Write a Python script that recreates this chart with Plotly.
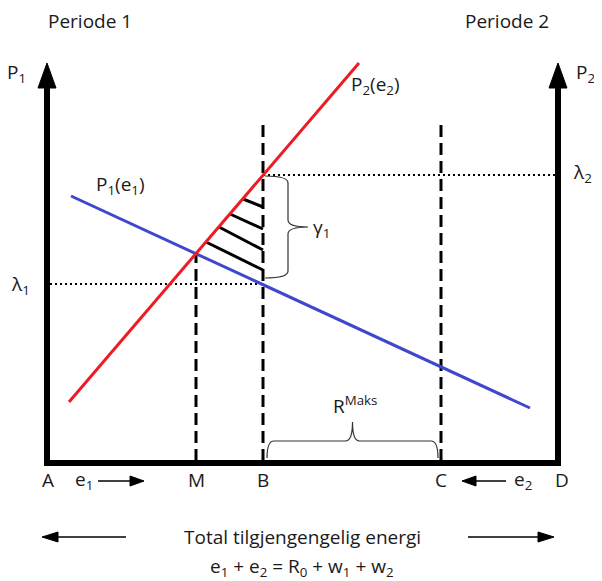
import plotly.graph_objects as go

# ---- diagram data (x: energy position from A, y: price level) ----
x_points = {"A": 0, "M": 149, "B": 216, "C": 394, "D": 511}
axis_top = 400
lambda1 = 179
lambda2 = 288
p2_x = [22, 312]          # red P2(e2) endpoints
p2_y = [61, 400]
p1_x = [24, 483]          # blue P1(e1) endpoints
p1_y = [267, 55]
m_top = 209               # height of M dashed line (intersection)
bc_top = 343              # height of B and C dashed lines
hatch_x0 = [196, 183, 172, 159]
hatch_y0 = [264, 249, 236, 221]
hatch_y1 = [256, 234, 213, 193]

FONT = "Open Sans"
TXT = "#1a1a1a"
FS = 19

fig = go.Figure()

def line(xs, ys, color, width, dash="solid"):
    fig.add_trace(go.Scatter(x=xs, y=ys, mode="lines", hoverinfo="skip",
                             line=dict(color=color, width=width, dash=dash),
                             showlegend=False))

# axes (thick black frame)
A, M, B, C, D = (x_points[k] for k in "AMBCD")
line([A, A], [-3, axis_top - 22], "black", 6)
line([D, D], [-3, axis_top - 22], "black", 6)
line([A - 3, D + 3], [0, 0], "black", 6)

# dotted price lines
line([A + 3, B], [lambda1, lambda1], "black", 2, "2px,3px")
line([B, D - 3], [lambda2, lambda2], "black", 2, "2px,3px")

# dashed vertical lines
line([M, M], [2, m_top], "black", 3, "12px,6px")
line([B, B], [2, bc_top], "black", 3, "12px,6px")
line([C, C], [2, bc_top], "black", 3, "12px,6px")

# hatching
for x0, y0, y1 in zip(hatch_x0, hatch_y0, hatch_y1):
    line([x0, B], [y0, y1], "black", 3)

# price curves
line(p1_x, p1_y, "#3F48CC", 3)
line(p2_x, p2_y, "#ED1C24", 3)

shapes = []
# axis arrow heads
for xa in (A, D):
    shapes.append(dict(type="path", xref="x", yref="y",
                       path=f"M {xa-9},{axis_top-25} L {xa},{axis_top} L {xa+9},{axis_top-25} Z",
                       fillcolor="black", line=dict(color="black", width=1)))

# gamma brace (vertical)
gx0, gx1, gt = B + 2, 241, 261
gtop, gbot = lambda2 - 1, lambda1 + 6
gmid = (gtop + gbot) / 2
shapes.append(dict(type="path", xref="x", yref="y",
                   path=(f"M {gx0},{gtop} Q {gx1},{gtop} {gx1},{gtop-7} L {gx1},{gmid+7} "
                         f"Q {gx1},{gmid} {gt},{gmid} Q {gx1},{gmid} {gx1},{gmid-7} "
                         f"L {gx1},{gbot+7} Q {gx1},{gbot} {gx0},{gbot}"),
                   line=dict(color="#333333", width=1.2)))

# R brace (horizontal)
rx0, rx1, ry0, ry1, rtip = B + 4, C - 3, 5, 22, 41
rmid = (rx0 + rx1) / 2
shapes.append(dict(type="path", xref="x", yref="y",
                   path=(f"M {rx0},{ry0} Q {rx0},{ry1} {rx0+7},{ry1} L {rmid-7},{ry1} "
                         f"Q {rmid},{ry1} {rmid},{rtip} Q {rmid},{ry1} {rmid+7},{ry1} "
                         f"L {rx1-7},{ry1} Q {rx1},{ry1} {rx1},{ry0}"),
                   line=dict(color="#333333", width=1.2)))

# small arrows e1 -> and <- e2
ya = -18
line([51, 84], [ya, ya], "black", 1.5)
shapes.append(dict(type="path", xref="x", yref="y",
                   path=f"M 83,{ya-5} L 97,{ya} L 83,{ya+5} Z",
                   fillcolor="black", line=dict(color="black", width=1)))
line([428, 459], [ya, ya], "black", 1.5)
shapes.append(dict(type="path", xref="x", yref="y",
                   path=f"M 429,{ya-5} L 415,{ya} L 429,{ya+5} Z",
                   fillcolor="black", line=dict(color="black", width=1)))

# total energy arrows
yb = -74
line([10, 79], [yb, yb], "black", 1.5)
shapes.append(dict(type="path", xref="x", yref="y",
                   path=f"M 11,{yb-5} L -5,{yb} L 11,{yb+5} Z",
                   fillcolor="black", line=dict(color="black", width=1)))
line([421, 492], [yb, yb], "black", 1.5)
shapes.append(dict(type="path", xref="x", yref="y",
                   path=f"M 491,{yb-5} L 507,{yb} L 491,{yb+5} Z",
                   fillcolor="black", line=dict(color="black", width=1)))

fig.update_layout(shapes=shapes)

def label(x, y, text, size=FS, xanchor="center"):
    fig.add_annotation(x=x, y=y, text=text, showarrow=False, xanchor=xanchor,
                       yanchor="middle", font=dict(family=FONT, size=size, color=TXT))

label(43, 442, "Periode 1")
label(460, 442, "Periode 2")
label(-31, 390, "P<sub>1</sub>")
label(550, 390, "P<sub>2</sub>", xanchor="right")
label(302, 378, "P<sub>2</sub>(e<sub>2</sub>)", xanchor="left")
label(73, 278, "P<sub>1</sub>(e<sub>1</sub>)")
label(-27, 178, "λ<sub>1</sub>")
label(535, 290, "λ<sub>2</sub>")
label(264, 235, "γ<sub>1</sub>", xanchor="left")
label(308, 58, "R<sup>Maks</sup>")
label(1, -17, "A")
label(37, -17, "e<sub>1</sub>")
label(M, -17, "M")
label(B, -17, "B")
label(C, -17, "C")
label(476, -17, "e<sub>2</sub>")
label(515, -17, "D")
label(255, -74, "Total tilgjengengelig energi")
label(255, -104, "e<sub>1</sub> + e<sub>2</sub> = R<sub>0</sub> + w<sub>1</sub> + w<sub>2</sub>")

# page body has an 8px margin: figure is 594x573 so it fits the 602x581 window
fig.update_xaxes(range=[-39, 555], visible=False, fixedrange=True)
fig.update_yaxes(range=[-118, 455], visible=False, fixedrange=True)
fig.update_layout(width=594, height=573, margin=dict(l=0, r=0, t=0, b=0),
                  paper_bgcolor="white", plot_bgcolor="white", showlegend=False)

fig.write_html("out.html")
